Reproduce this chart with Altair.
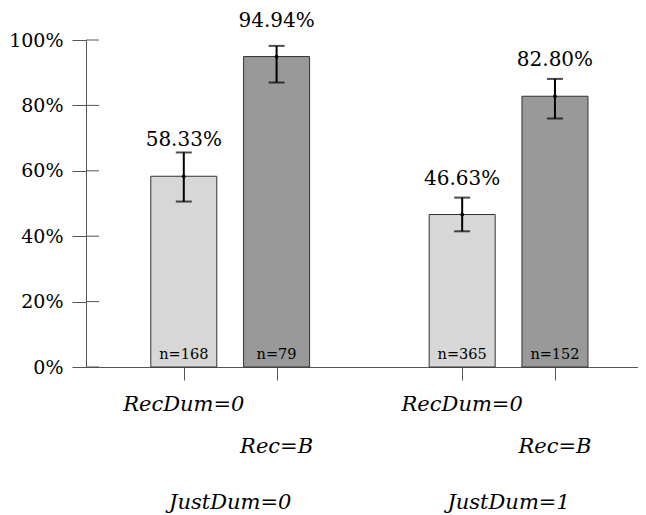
import altair as alt
import pandas as pd

# ---- data ----
just_groups = ["JustDum=0", "JustDum=0", "JustDum=1", "JustDum=1"]
rec_levels = ["RecDum=0", "Rec=B", "RecDum=0", "Rec=B"]
shares = [0.5833, 0.9494, 0.4663, 0.8280]
ci_low = [0.506, 0.870, 0.415, 0.760]
ci_high = [0.656, 0.982, 0.518, 0.881]
counts = [168, 79, 365, 152]
y_ticks = [0, 0.2, 0.4, 0.6, 0.8, 1.0]

group_order = ["JustDum=0", "JustDum=1"]
rec_order = ["RecDum=0", "Rec=B"]

df = pd.DataFrame({
    "group": just_groups,
    "rec": rec_levels,
    "share": shares,
    "lo": ci_low,
    "hi": ci_high,
    "n": counts,
})
# slot on the x axis: two bars per group, one empty slot between groups
df["slot"] = [group_order.index(g) * 3 + rec_order.index(r) + 1 for g, r in zip(df.group, df.rec)]
df["pct"] = [f"{v * 100:.2f}%" for v in df.share]
df["nlab"] = [f"n={c}" for c in df.n]

grp = df.groupby("group", as_index=False)["slot"].mean()

W, H = 552, 327
SERIF = "DejaVu Serif"

xs = alt.Scale(domain=[0, 5.841], nice=False, zero=False)
ys = alt.Scale(domain=[0, 1], nice=False)

x_enc = alt.X("slot:Q", scale=xs,
              axis=alt.Axis(values=[1, 2, 4, 5], labels=False, title=None, grid=False,
                            tickSize=13, tickColor="#555", domainColor="#555",
                            tickWidth=1, domainWidth=1))

base = alt.Chart(df)

bars = base.mark_bar(size=66, stroke="#333", strokeWidth=1).encode(
    x=x_enc,
    y=alt.Y("share:Q", scale=ys,
            axis=alt.Axis(values=y_ticks, format=".0%", title=None, grid=False,
                          tickSize=14, tickColor="#555", domainColor="#555",
                          labelFont=SERIF, labelFontSize=19, labelColor="black",
                          labelPadding=9, labelBaseline="middle")),
    color=alt.Color("rec:N", scale=alt.Scale(domain=rec_order, range=["#d6d7d6", "#989998"]),
                    legend=None),
)

inner_ticks = alt.Chart(pd.DataFrame({"t": y_ticks})).mark_rule(color="#555", strokeWidth=1).encode(
    y=alt.Y("t:Q", scale=ys),
    x=alt.value(0),
    x2=alt.value(13),
)

err = base.mark_rule(color="black", strokeWidth=2).encode(
    x="slot:Q", y="lo:Q", y2="hi:Q")
cap_lo = base.mark_tick(orient="horizontal", color="black", thickness=2, size=16).encode(
    x="slot:Q", y="lo:Q")
cap_hi = base.mark_tick(orient="horizontal", color="black", thickness=2, size=16).encode(
    x="slot:Q", y="hi:Q")
dot = base.mark_point(filled=True, shape="circle", size=14, color="black", opacity=1).encode(
    x="slot:Q", y="share:Q")

pct = base.mark_text(font=SERIF, fontSize=20, baseline="alphabetic", dy=-30, color="black").encode(
    x="slot:Q", y="share:Q", text="pct:N")

nlab = base.mark_text(font=SERIF, fontSize=14.5, baseline="alphabetic", dy=-8,
                      color="black").encode(
    x="slot:Q", y=alt.datum(0), text="nlab:N")

row1 = base.transform_filter(alt.datum.rec == "RecDum=0").mark_text(
    font=SERIF, fontStyle="italic", fontSize=21, baseline="alphabetic", color="black").encode(
    x="slot:Q", y=alt.value(H + 44), text="rec:N")
row2 = base.transform_filter(alt.datum.rec == "Rec=B").mark_text(
    font=SERIF, fontStyle="italic", fontSize=21, baseline="alphabetic", color="black").encode(
    x="slot:Q", y=alt.value(H + 86), text="rec:N")
row3 = alt.Chart(grp).mark_text(
    font=SERIF, fontStyle="italic", fontSize=21, baseline="alphabetic", color="black").encode(
    x=alt.X("slot:Q", scale=xs), y=alt.value(H + 142), text="group:N")

chart = alt.layer(bars, inner_ticks, err, cap_lo, cap_hi, dot, pct, nlab, row1, row2, row3).properties(
    width=W, height=H,
    autosize=alt.AutoSizeParams(type="none"),
    padding={"left": 78, "top": 32, "right": 0, "bottom": 146},
).configure(background="white").configure_view(stroke=None)

chart.save("out.html", embed_options={"renderer": "svg", "actions": False})
